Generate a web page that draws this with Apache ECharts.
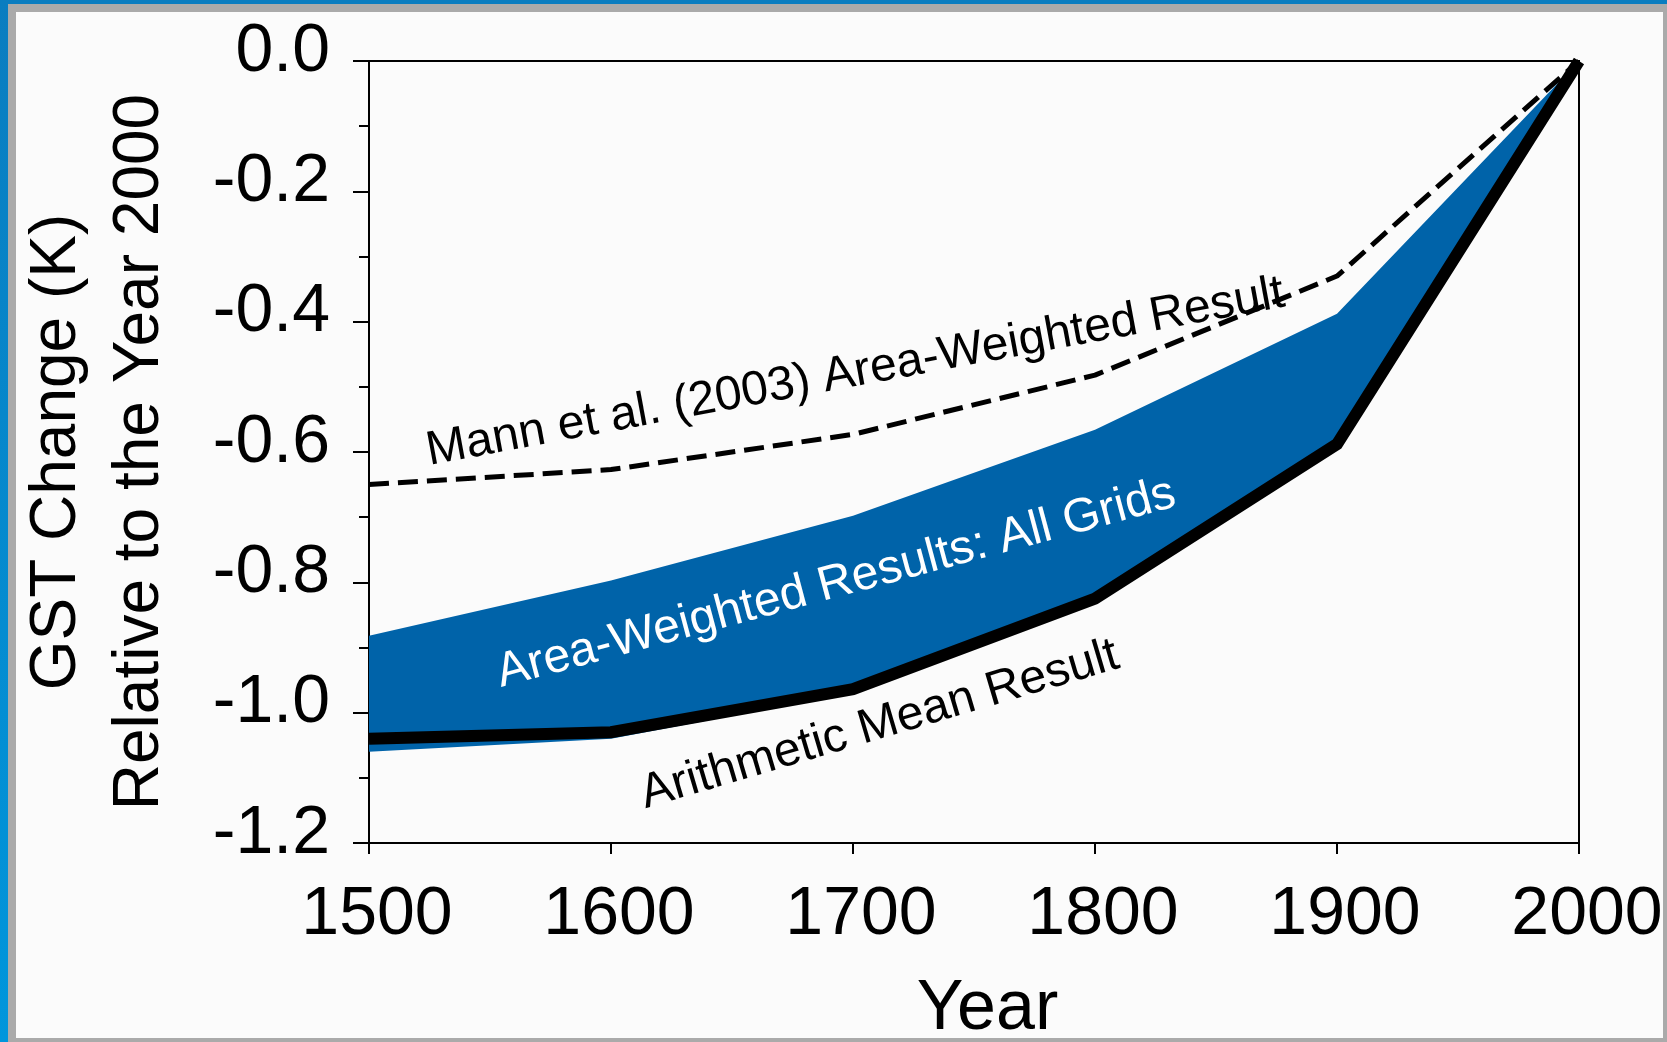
<!DOCTYPE html>
<html>
<head>
<meta charset="utf-8">
<script src="https://cdn.jsdelivr.net/npm/echarts@6/dist/echarts.min.js"></script>
<style>
html,body{margin:0;padding:0;width:1667px;height:1042px;overflow:hidden;background:#aaaaaa;}
#blueTop{position:absolute;left:0;top:0;width:1667px;height:4px;background:#0a7dc0;}
#blueLeft{position:absolute;left:0;top:0;width:8px;height:1042px;background:linear-gradient(#0a7dc0,#0096dc);}
#chart{position:absolute;left:16px;top:12px;width:1647px;height:1026px;background:#fbfbfb;}
</style>
</head>
<body>
<div id="blueTop"></div>
<div id="blueLeft"></div>
<div id="chart"></div>
<script>
// ---- data ----
const years = [1500, 1600, 1700, 1800, 1900, 2000];
const mannAreaWeighted = [-0.65, -0.627, -0.573, -0.482, -0.33, 0];
const arithmeticMean = [-1.04, -1.03, -0.964, -0.825, -0.588, 0];
const allGridsUpper = [-0.882, -0.797, -0.698, -0.566, -0.388, 0];
const allGridsLower = [-1.06, -1.04, -0.97, -0.83, -0.595, 0];

const annotationTexts = ['Mann et al. (2003) Area-Weighted Result', 'Area-Weighted Results: All Grids', 'Arithmetic Mean Result'];
const annotationYears = [1701, 1693, 1711];
const annotationValues = [-0.478, -0.802, -1.019];

const yAxisTitle = 'GST Change (K)\nRelative to the Year 2000';
const xAxisTitle = 'Year';

// ---- styling ----
const FONT = '"Liberation Sans", Arial, sans-serif';
const annotationStyle = [
  { rotate: 10.5, color: '#000000' },
  { rotate: 15, color: '#ffffff' },
  { rotate: 16.5, color: '#000000' }
];

const pair = (xs, ys) => xs.map((x, i) => [x, ys[i]]);

const chart = echarts.init(document.getElementById('chart'), null, { renderer: 'canvas' });

const option = {
  backgroundColor: '#fbfbfb',
  animation: false,
  grid: {
    left: 353, right: 84, top: 49, bottom: 195,
    show: true, borderColor: '#000', borderWidth: 2, backgroundColor: 'transparent',
    containLabel: false, outerBoundsMode: 'none'
  },
  xAxis: {
    type: 'value', min: 1500, max: 2000, interval: 100,
    name: xAxisTitle, nameLocation: 'middle', nameGap: 132, nameMoveOverlap: false,
    nameTextStyle: { fontFamily: FONT, fontSize: 70, color: '#000', padding: [0, 0, 0, 27] },
    axisLine: { show: true, onZero: false, lineStyle: { color: '#000', width: 2 } },
    axisTick: { show: true, inside: false, length: 11, lineStyle: { color: '#000', width: 2 } },
    axisLabel: {
      fontFamily: FONT, fontSize: 68, color: '#000', margin: 38,
      padding: [0, 0, 0, 16],
      formatter: v => String(v)
    },
    splitLine: { show: false }
  },
  yAxis: {
    type: 'value', min: -1.2, max: 0, interval: 0.2,
    name: yAxisTitle, nameLocation: 'middle', nameRotate: 90, nameGap: 187, nameMoveOverlap: false,
    nameTextStyle: { fontFamily: FONT, fontSize: 64, lineHeight: 83, color: '#000', align: 'center' },
    axisLine: { show: true, onZero: false, lineStyle: { color: '#000', width: 2 } },
    axisTick: { show: true, inside: false, length: 16, lineStyle: { color: '#000', width: 2 } },
    minorTick: { show: true, splitNumber: 2, length: 10, lineStyle: { color: '#000', width: 2 } },
    axisLabel: {
      fontFamily: FONT, fontSize: 68, color: '#000', margin: 39,
      verticalAlign: 'bottom', lineHeight: 18,
      formatter: v => (Math.abs(v) < 1e-9 ? '0.0' : v.toFixed(1))
    },
    splitLine: { show: false }
  },
  series: [
    {
      name: 'Area-Weighted Results: All Grids', type: 'custom', silent: true, z: 2,
      data: [[years[0], allGridsUpper[0]]],
      encode: { x: 0, y: 1 },
      renderItem: function (params, api) {
        const pts = [];
        for (let i = 0; i < years.length; i++) pts.push(api.coord([years[i], allGridsUpper[i]]));
        for (let i = years.length - 1; i >= 0; i--) pts.push(api.coord([years[i], allGridsLower[i]]));
        return { type: 'polygon', shape: { points: pts }, style: { fill: '#0063a9' } };
      }
    },
    {
      name: 'Arithmetic Mean Result', type: 'line', data: pair(years, arithmeticMean),
      symbol: 'none', silent: true, clip: false,
      lineStyle: { color: '#000', width: 12, join: 'miter' }, z: 3
    },
    {
      name: 'Mann et al. (2003) Area-Weighted Result', type: 'line', data: pair(years, mannAreaWeighted),
      symbol: 'none', silent: true, clip: false,
      lineStyle: { color: '#000', width: 5, type: [20, 9] }, z: 4
    }
  ]
};
chart.setOption(option);

// annotations anchored in data coordinates, converted through the chart's own scales
const graphics = annotationTexts.map((t, i) => {
  const p = chart.convertToPixel({ gridIndex: 0 }, [annotationYears[i], annotationValues[i]]);
  return {
    type: 'text', x: p[0], y: p[1], z: 10, silent: true,
    rotation: annotationStyle[i].rotate * Math.PI / 180,
    style: {
      text: t, fill: annotationStyle[i].color,
      font: '48px ' + FONT, align: 'center', verticalAlign: 'middle'
    }
  };
});
chart.setOption({ graphic: graphics });
</script>
</body>
</html>
